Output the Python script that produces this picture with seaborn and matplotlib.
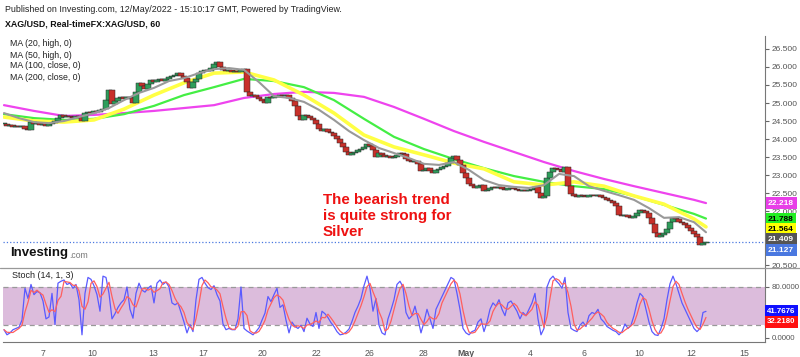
import numpy as np
import pandas as pd
import seaborn as sns
import matplotlib.pyplot as plt
from matplotlib.lines import Line2D

# hourly XAG/USD candles (close)
close = [24.42, 24.36, 24.39, 24.33, 24.36, 24.33, 24.36, 24.28, 24.25, 24.47,
         24.42, 24.44, 24.39, 24.42, 24.36, 24.42, 24.44, 24.50, 24.58, 24.67,
         24.61, 24.64, 24.61, 24.58, 24.64, 24.61, 24.50, 24.72, 24.75, 24.72,
         24.78, 24.75, 24.81, 24.83, 25.08, 25.36, 24.97, 25.06, 25.14, 25.17,
         25.11, 25.17, 25.14, 25.00, 25.31, 25.56, 25.47, 25.39, 25.53, 25.64,
         25.58, 25.64, 25.67, 25.61, 25.67, 25.72, 25.75, 25.78, 25.83, 25.75,
         25.69, 25.58, 25.42, 25.58, 25.67, 25.83, 25.89, 25.92, 25.89, 25.97,
         26.08, 26.14, 26.00, 25.92, 25.89, 25.92, 25.86, 25.89, 25.86, 25.92,
         25.94, 25.31, 25.19, 25.22, 25.17, 25.11, 25.06, 25.00, 25.17, 25.14,
         25.19, 25.17, 25.22, 25.19, 25.22, 25.14, 25.06, 24.92, 24.64, 24.53,
         24.67, 24.64, 24.58, 24.53, 24.42, 24.28, 24.22, 24.28, 24.19, 24.17,
         24.08, 24.00, 23.89, 23.78, 23.64, 23.56, 23.61, 23.64, 23.69, 23.72,
         23.78, 23.86, 23.81, 23.69, 23.50, 23.61, 23.56, 23.50, 23.53, 23.47,
         23.50, 23.56, 23.61, 23.58, 23.44, 23.39, 23.36, 23.39, 23.31, 23.11,
         23.14, 23.19, 23.11, 23.06, 23.14, 23.17, 23.22, 23.25, 23.33, 23.47,
         23.53, 23.42, 23.28, 23.06, 22.92, 22.75, 22.69, 22.64, 22.69, 22.72,
         22.56, 22.58, 22.64, 22.67, 22.64, 22.67, 22.61, 22.58, 22.64, 22.64,
         22.61, 22.58, 22.56, 22.58, 22.56, 22.58, 22.61, 22.67, 22.50, 22.36,
         22.42, 22.92, 23.08, 23.19, 23.17, 23.14, 23.08, 23.22, 22.69, 22.47,
         22.42, 22.39, 22.44, 22.42, 22.39, 22.44, 22.44, 22.42, 22.44, 22.39,
         22.36, 22.31, 22.28, 22.22, 22.14, 21.89, 21.86, 21.89, 21.83, 21.81,
         21.86, 21.94, 22.03, 22.00, 21.94, 21.81, 21.64, 21.39, 21.28, 21.33,
         21.39, 21.50, 21.69, 21.81, 21.78, 21.69, 21.67, 21.61, 21.53, 21.44,
         21.36, 21.28, 21.06, 21.11, 21.13]

# moving averages, sampled every 5 bars (MA20) / 10 bars (others)
ma20 = [24.72, 24.58, 24.47, 24.44, 24.50, 24.61, 24.72, 24.86, 25.08, 25.28,
        25.42, 25.61, 25.69, 25.83, 25.94, 25.97, 25.92, 25.58, 25.19, 25.14,
        25.03, 24.81, 24.53, 24.22, 23.97, 23.75, 23.61, 23.47, 23.31, 23.28,
        23.36, 23.14, 22.86, 22.72, 22.67, 22.64, 22.72, 23.03, 22.97, 22.69,
        22.56, 22.44, 22.31, 22.08, 21.81, 21.83, 21.69, 21.41]
ma50 = [24.61, 24.50, 24.47, 24.53, 24.83, 25.22, 25.56, 25.83, 25.86, 25.64,
        25.22, 24.72, 24.11, 23.78, 23.56, 23.33, 23.17, 22.81, 22.72, 22.81,
        22.69, 22.42, 22.19, 21.78, 21.56]
ma100 = [24.69, 24.58, 24.53, 24.56, 24.69, 24.92, 25.22, 25.44, 25.67, 25.61,
         25.44, 25.08, 24.56, 24.06, 23.72, 23.44, 23.19, 22.97, 22.81, 22.69,
         22.61, 22.42, 22.17, 21.92, 21.79]
ma200 = [24.94, 24.78, 24.64, 24.67, 24.72, 24.78, 24.86, 24.94, 25.14, 25.25,
         25.31, 25.28, 25.17, 24.89, 24.56, 24.22, 23.92, 23.64, 23.36, 23.11,
         22.89, 22.69, 22.50, 22.31, 22.22]

# Stoch %K per bar
stoch_k = [13, 5, 8, 13, 15, 17, 28, 78, 62, 84,
           68, 73, 71, 58, 30, 33, 70, 21, 86, 89,
           91, 84, 86, 78, 84, 60, 5, 70, 95, 92,
           82, 68, 42, 97, 95, 70, 30, 38, 48, 55,
           60, 80, 45, 31, 70, 86, 75, 72, 78, 82,
           55, 86, 91, 84, 88, 80, 55, 52, 55, 40,
           25, 8, 21, 10, 60, 92, 95, 86, 79, 76,
           82, 68, 58, 22, 13, 15, 13, 13, 30, 80,
           15, 11, 8, 5, 10, 16, 28, 39, 65, 57,
           68, 78, 48, 52, 28, 8, 25, 18, 15, 20,
           10, 31, 22, 18, 40, 15, 42, 38, 32, 24,
           18, 10, 5, 6, 9, 14, 26, 40, 50, 62,
           82, 97, 78, 42, 62, 20, 8, 5, 30, 44,
           60, 84, 89, 80, 40, 30, 35, 50, 30, 8,
           25, 45, 30, 15, 45, 55, 65, 75, 85, 95,
           92, 70, 45, 15, 8, 5, 10, 12, 25, 30,
           10, 25, 45, 55, 50, 60, 45, 35, 55, 58,
           50, 42, 30, 40, 35, 45, 55, 70, 30, 5,
           15, 80, 92, 97, 90, 85, 78, 95, 40, 15,
           12, 10, 20, 25, 18, 35, 40, 38, 45, 30,
           25, 18, 15, 12, 10, 5, 10, 22, 15, 20,
           35, 55, 70, 65, 45, 25, 10, 5, 4, 15,
           30, 60, 85, 97, 85, 70, 55, 45, 35, 25,
           15, 10, 15, 40, 41.77]

price_ticks = [20.5, 21.0, 21.5, 22.0, 22.5, 23.0, 23.5, 24.0, 24.5, 25.0, 25.5, 26.0, 26.5]
hidden_ticks = [21.0, 21.5]   # covered by the value boxes on the chart
date_labels = ['7', '10', '13', '17', '20', '22', '26', '28', 'May', '4', '6', '10', '12', '15']
date_bars = [13, 29.3, 49.7, 66.3, 86, 104, 121.7, 139.7, 154, 175.3, 193.3, 211.7, 229, 246.7]

last_vals = {'MA200': 22.218, 'MA100': 21.788, 'MA50': 21.564, 'MA20': 21.409, 'last': 21.127}
stoch_last = [41.7676, 32.2180]

df = pd.DataFrame({'bar': np.arange(len(close)), 'close': close, 'k': stoch_k})
df['open'] = df['close'].shift(1).fillna(df['close'])
df['d'] = df['k'].rolling(3, min_periods=1).mean()
ma_long_x = np.r_[np.arange(0, 231, 10), len(close) - 1]
ma20_x = np.r_[np.arange(0, 231, 5), len(close) - 1]

sns.set_style('white')
plt.rcParams['font.family'] = ['Liberation Sans', 'DejaVu Sans']

W, H = 800, 357
fig = plt.figure(figsize=(8, 3.57), dpi=100)
ax = fig.add_axes([3 / W, (H - 268) / H, 762 / W, 232 / H])
ax2 = fig.add_axes([3 / W, (H - 342) / H, 762 / W, 74 / H], sharex=ax)

# candles
up = df['close'] >= df['open']
lo = np.minimum(df['open'], df['close'])
hgt = np.maximum((df['close'] - df['open']).abs(), 0.012)
ax.bar(df['bar'], hgt, bottom=lo, width=1.7,
       color=np.where(up, '#2e9e5b', '#c8302a'), edgecolor='#2a2a2a', linewidth=0.35, zorder=3)

sns.lineplot(x=ma_long_x, y=ma200, ax=ax, color='#ee44ee', lw=1.6, zorder=2)
sns.lineplot(x=ma_long_x, y=ma100, ax=ax, color='#44ee44', lw=1.6, zorder=2)
sns.lineplot(x=ma_long_x, y=ma50, ax=ax, color='#ffff44', lw=2.6, zorder=2)
sns.lineplot(x=ma20_x, y=ma20, ax=ax, color='#999999', lw=1.5, zorder=4)
ax.axhline(last_vals['last'], color='#4a78e0', ls=':', lw=0.9)

ax.set_xlim(-0.33, 253.67)
ax.set_ylim(20.417, 26.861)
ax.yaxis.tick_right()
ax.set_yticks(price_ticks)
ax.set_yticklabels(['' if v in hidden_ticks else f'{v:.3f}' for v in price_ticks])
ax.tick_params(axis='y', labelsize=6, labelcolor='#555555', color='#666666', length=3, width=0.8, pad=1.5)
ax.tick_params(axis='x', bottom=False, labelbottom=False)
for s in ['top', 'left', 'bottom']:
    ax.spines[s].set_visible(False)
ax.spines['right'].set_color('#777777')
ax.set_xlabel('')
ax.set_ylabel('')

# value boxes on the price scale (shifted a little so they do not overlap)
label_style = [('MA200', '#e83ee8', 'white', 0), ('MA100', '#22ee22', 'black', -0.8),
               ('MA50', '#ffff00', 'black', -2.4), ('MA20', '#555555', 'white', -7.2),
               ('last', '#4a78e0', 'white', -8.0)]
for key, bg, fg, dy in label_style:
    ax.annotate(f'{last_vals[key]:.3f}', xy=(1.0, last_vals[key]), xycoords=ax.get_yaxis_transform(),
                xytext=(3, dy), textcoords='offset pixels', ha='left', va='center', fontsize=6,
                fontweight='bold', color=fg, zorder=10, annotation_clip=False,
                bbox=dict(boxstyle='square,pad=0.3', fc=bg, ec='none'))

# stochastic panel
ax2.axhspan(20, 80, color='#dcbcdc', lw=0)
ax2.axhline(80, color='#999999', ls='--', lw=0.9, dashes=(4, 3))
ax2.axhline(20, color='#999999', ls='--', lw=0.9, dashes=(4, 3))
sns.lineplot(data=df, x='bar', y='k', ax=ax2, color='#5a5aff', lw=0.9)
sns.lineplot(data=df, x='bar', y='d', ax=ax2, color='#ff5f5f', lw=0.9)
ax2.set_ylim(-6.3, 109.8)
ax2.yaxis.tick_right()
ax2.set_yticks([0, 80])
ax2.set_yticklabels(['0.0000', '80.0000'])
ax2.tick_params(axis='y', labelsize=5.7, labelcolor='#555555', color='#666666', length=3, width=0.8, pad=1.5)
ax2.set_xticks(date_bars)
ax2.set_xticklabels(date_labels)
ax2.tick_params(axis='x', labelsize=6.3, labelcolor='#555555', color='#666666', length=3, width=0.8, pad=2)
for t in ax2.get_xticklabels():
    if t.get_text() == 'May':
        t.set_fontweight('bold')
for s in ['top', 'left']:
    ax2.spines[s].set_visible(False)
ax2.spines['right'].set_color('#777777')
ax2.spines['bottom'].set_color('#777777')
ax2.set_xlabel('')
ax2.set_ylabel('')
ax2.annotate(f'{stoch_last[0]:.4f}', xy=(1.0, stoch_last[0]), xycoords=ax2.get_yaxis_transform(),
             xytext=(2, 0), textcoords='offset pixels', ha='left', va='center', fontsize=5.7,
             fontweight='bold', color='white', annotation_clip=False,
             bbox=dict(boxstyle='square,pad=0.3', fc='#1010ff', ec='none'))
ax2.annotate(f'{stoch_last[1]:.4f}', xy=(1.0, stoch_last[1]), xycoords=ax2.get_yaxis_transform(),
             xytext=(2, -4.5), textcoords='offset pixels', ha='left', va='center', fontsize=5.7,
             fontweight='bold', color='white', annotation_clip=False,
             bbox=dict(boxstyle='square,pad=0.3', fc='#ff1010', ec='none'))

# panel separator
fig.add_artist(Line2D([0, 1], [(H - 268) / H] * 2, transform=fig.transFigure, color='#999999', lw=0.9))

# header and legend
fig.text(5 / W, 1 - 9 / H, 'Published on Investing.com, 12/May/2022 - 15:10:17 GMT, Powered by TradingView.',
         fontsize=6.4, color='#222222', va='center')
fig.text(5 / W, 1 - 24 / H, 'XAG/USD, Real-timeFX:XAG/USD, 60', fontsize=6.4, fontweight='bold',
         color='#111111', va='center')
for k, txt in enumerate(['MA (20, high, 0)', 'MA (50, high, 0)', 'MA (100, close, 0)', 'MA (200, close, 0)']):
    fig.text(10 / W, 1 - (44 + 11 * k) / H, txt, fontsize=6.3, color='#222222', va='center')
fig.text(12 / W, 1 - 276 / H, 'Stoch (14, 1, 3)', fontsize=6.5, color='#222222', va='center')

fig.text(323 / W, 1 - 216 / H, 'The bearish trend\nis quite strong for\nSilver', fontsize=10.9,
         fontweight='bold', color='#ee1111', va='center', ha='left', linespacing=1.15)

fig.text(10 / W, 1 - 253 / H, 'Investing', fontsize=9.5, fontweight='bold', color='#111111', va='center')
fig.text(69 / W, 1 - 255 / H, '.com', fontsize=6.2, color='#777777', va='center')

fig.savefig('out.png', dpi=100)
